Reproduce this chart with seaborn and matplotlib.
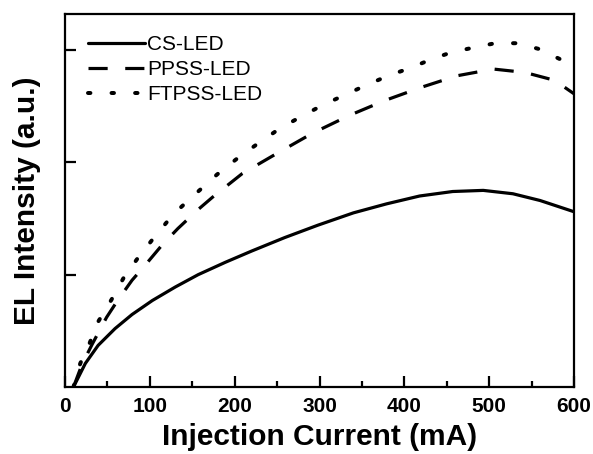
import numpy as np
import pandas as pd
import matplotlib
matplotlib.use("Agg")
import matplotlib.pyplot as plt
import seaborn as sns

# ---- data ----
cs_x = [10, 24, 39, 59, 79, 103, 130, 157, 189, 220, 259, 298, 340, 379, 418, 457, 493, 528, 560, 600]
cs_y = [0, 0.21, 0.37, 0.52, 0.645, 0.77, 0.89, 1.00, 1.11, 1.21, 1.33, 1.44, 1.55, 1.63, 1.70,
        1.74, 1.75, 1.72, 1.66, 1.56]

pp_x = [10, 20, 32, 49, 62, 79, 94, 114, 133, 157, 174, 209, 250, 292, 336, 377, 421, 462,
        505, 542, 577, 600]
pp_y = [0, 0.20, 0.38, 0.62, 0.77, 0.95, 1.08, 1.26, 1.41, 1.58, 1.69, 1.90, 2.08, 2.26, 2.42,
        2.55, 2.67, 2.77, 2.83, 2.80, 2.73, 2.61]

ft_x = [10, 18, 29, 39, 55, 69, 87, 106, 128, 154, 179, 204, 228, 253, 279, 304, 330, 356,
        381, 407, 433, 456, 481, 507, 533, 558, 583, 600]
ft_y = [0, 0.21, 0.39, 0.58, 0.78, 0.97, 1.16, 1.34, 1.54, 1.72, 1.89, 2.04, 2.17, 2.30, 2.41,
        2.51, 2.60, 2.69, 2.77, 2.84, 2.92, 2.98, 3.02, 3.06, 3.06, 3.01, 2.92, 2.84]

labels = ["CS-LED", "PPSS-LED", "FTPSS-LED"]
x_ticks = [0, 100, 200, 300, 400, 500, 600]
y_ticks = [1, 2, 3]

sns.set_style("ticks", {"axes.edgecolor": "black", "xtick.color": "black",
                        "ytick.color": "black", "text.color": "black",
                        "axes.labelcolor": "black"})
plt.rcParams["font.family"] = ["Liberation Sans", "DejaVu Sans"]

fig = plt.figure(figsize=(5.93, 4.54), dpi=100)
ax = fig.add_axes([65 / 593, (454 - 387) / 454, (574 - 65) / 593, (387 - 14) / 454])

lw = 2.3
sns.lineplot(x=cs_x, y=cs_y, ax=ax, color="black", lw=lw, label=labels[0])
sns.lineplot(x=pp_x, y=pp_y, ax=ax, color="black", lw=lw, label=labels[1],
             linestyle=(0, (6, 5.5)))
sns.lineplot(x=ft_x, y=ft_y, ax=ax, color="black", lw=lw * 1.25, label=labels[2],
             linestyle=(0, (0.6, 5.3)), dash_capstyle="round")

ax.set_xlim(0, 600)
ax.set_ylim(0, 3.32)
ax.set_xticks(x_ticks)
ax.set_xticks(np.arange(50, 600, 100), minor=True)
ax.set_yticks(y_ticks)
ax.set_yticklabels([])
ax.tick_params(axis="both", which="major", direction="in", length=8, width=1.6,
               labelsize=15, colors="black")
ax.tick_params(axis="x", which="minor", direction="in", length=4.5, width=1.6, colors="black")
ax.tick_params(axis="x", pad=7)
for lab in ax.get_xticklabels():
    lab.set_fontweight("bold")
for sp in ax.spines.values():
    sp.set_linewidth(1.6)
    sp.set_color("black")
    sp.set_visible(True)

ax.set_xlabel("Injection Current (mA)", fontsize=21.5, fontweight="bold", labelpad=5,
              color="black")
ax.set_ylabel("EL Intensity (a.u.)", fontsize=21.5, fontweight="bold", labelpad=14,
              color="black")

leg = ax.legend(loc="upper left", bbox_to_anchor=(23 / 509, (387 - 35) / 373),
                frameon=False, fontsize=15, handlelength=2.75, handletextpad=0.1,
                labelspacing=0.3, borderpad=0, borderaxespad=0)
for t in leg.get_texts():
    t.set_color("black")

fig.savefig("out.png", dpi=100)
